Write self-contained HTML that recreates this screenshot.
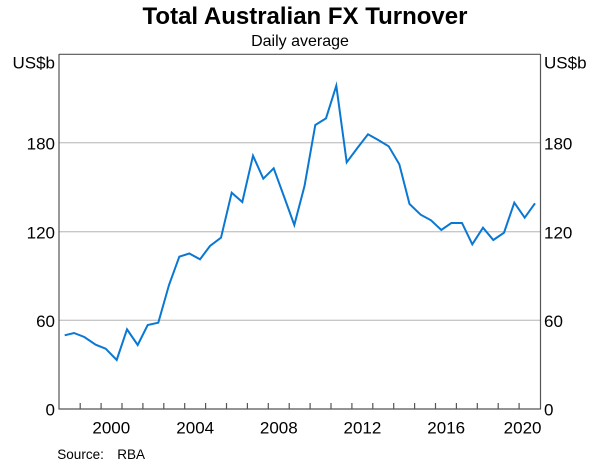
<!DOCTYPE html>
<html>
<head>
<meta charset="utf-8">
<style>
html,body{margin:0;padding:0;background:#fff;}
svg{display:block;}
text{font-family:"Liberation Sans",Arial,sans-serif;fill:#000;}
</style>
</head>
<body>
<svg width="600" height="465" viewBox="0 0 600 465" xmlns="http://www.w3.org/2000/svg">
<rect width="600" height="465" fill="#fff"/>
<text x="305" y="24" font-size="24" font-weight="bold" text-anchor="middle">Total Australian FX Turnover</text>
<text x="300" y="46" font-size="16" text-anchor="middle">Daily average</text>

<!-- gridlines -->
<g stroke="#c8c8c8" stroke-width="1.3">
<line x1="59" y1="142.7" x2="540" y2="142.7"/>
<line x1="59" y1="231.7" x2="540" y2="231.7"/>
<line x1="59" y1="320.3" x2="540" y2="320.3"/>
</g>

<!-- frame -->
<g stroke="#555" stroke-width="1.2" fill="none">
<line x1="59" y1="54.3" x2="540.5" y2="54.3"/>
<line x1="59" y1="54" x2="59" y2="409.5"/>
<line x1="540.5" y1="54" x2="540.5" y2="409.5"/>
<line x1="59" y1="409" x2="540.5" y2="409"/>
</g>

<!-- x ticks -->
<g stroke="#555" stroke-width="1.2" id="ticks">
<line x1="80.2" y1="403" x2="80.2" y2="409"/>
<line x1="101.1" y1="403" x2="101.1" y2="409"/>
<line x1="122.0" y1="403" x2="122.0" y2="409"/>
<line x1="142.9" y1="403" x2="142.9" y2="409"/>
<line x1="163.8" y1="403" x2="163.8" y2="409"/>
<line x1="184.7" y1="403" x2="184.7" y2="409"/>
<line x1="205.6" y1="403" x2="205.6" y2="409"/>
<line x1="226.5" y1="403" x2="226.5" y2="409"/>
<line x1="247.4" y1="403" x2="247.4" y2="409"/>
<line x1="268.3" y1="403" x2="268.3" y2="409"/>
<line x1="289.2" y1="403" x2="289.2" y2="409"/>
<line x1="310.1" y1="403" x2="310.1" y2="409"/>
<line x1="331.0" y1="403" x2="331.0" y2="409"/>
<line x1="351.9" y1="403" x2="351.9" y2="409"/>
<line x1="372.8" y1="403" x2="372.8" y2="409"/>
<line x1="393.7" y1="403" x2="393.7" y2="409"/>
<line x1="414.6" y1="403" x2="414.6" y2="409"/>
<line x1="435.5" y1="403" x2="435.5" y2="409"/>
<line x1="456.4" y1="403" x2="456.4" y2="409"/>
<line x1="477.3" y1="403" x2="477.3" y2="409"/>
<line x1="498.2" y1="403" x2="498.2" y2="409"/>
<line x1="519.1" y1="403" x2="519.1" y2="409"/>
</g>

<!-- y labels left -->
<g font-size="17" text-anchor="end">
<text x="55" y="68.3">US$b</text>
<text x="55" y="149.3">180</text>
<text x="55" y="238.3">120</text>
<text x="55" y="326.9">60</text>
<text x="55" y="415.5">0</text>
</g>
<!-- y labels right -->
<g font-size="17" text-anchor="start">
<text x="544" y="68.3">US$b</text>
<text x="544" y="149.3">180</text>
<text x="544" y="238.3">120</text>
<text x="544" y="326.9">60</text>
<text x="544" y="415.5">0</text>
</g>

<!-- x labels -->
<g font-size="17" text-anchor="middle">
<text x="111.3" y="433.5">2000</text>
<text x="195.2" y="433.5">2004</text>
<text x="278.8" y="433.5">2008</text>
<text x="362.4" y="433.5">2012</text>
<text x="446.2" y="433.5">2016</text>
<text x="541.5" y="433.5" text-anchor="end">2020</text>
</g>

<!-- series -->
<polyline fill="none" stroke="#0a78d2" stroke-width="2" stroke-linejoin="miter" stroke-miterlimit="10"
points="64.7,335.3 74,333 84.3,337 95.7,344.7 105.7,348.7 116.7,360 127,329.3 137.7,345 147.7,325 158.3,322.7 169,285 179.3,256.7 189.3,253.5 200,259.3 210,246 221,237.7 231.7,192.7 242.3,202 253,155.7 263.3,178.7 273.7,168.3 284,196.5 294.3,225 304.5,186 315.3,125 326,118.3 336.3,85.7 346.7,162.3 357,148.5 368,134.3 378.7,140.3 388.7,146.3 399.3,164.3 409.5,204 420.7,214.7 431,220.3 441.3,230 451.3,223 462,223 472.3,244.3 483,227.7 493.3,240 504,232.7 514.3,202.7 524.7,217.7 535,203.3"/>

<!-- source -->
<text x="57.3" y="459" font-size="13.5">Source:</text>
<text x="117.3" y="459" font-size="13.5">RBA</text>
</svg>
</body>
</html>
